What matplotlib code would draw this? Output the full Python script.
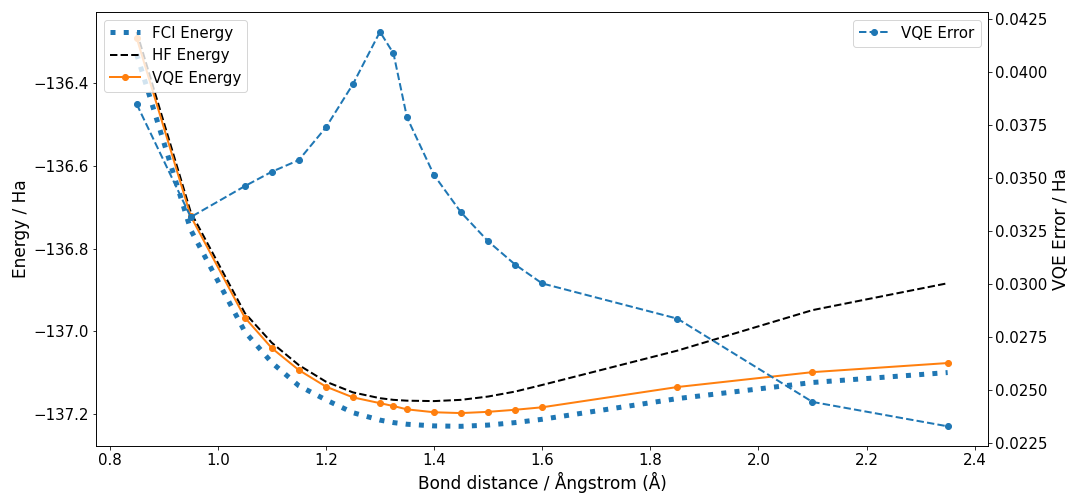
import numpy as np
import matplotlib
matplotlib.use('Agg')
import matplotlib.pyplot as plt

#%% data
bond = [0.85, 0.95, 1.05, 1.1, 1.15, 1.2, 1.25, 1.3, 1.325, 1.35,
        1.4, 1.45, 1.5, 1.55, 1.6, 1.85, 2.1, 2.35]
fci_energy = [-136.330, -136.755, -137.001, -137.076, -137.132, -137.166, -137.197, -137.215,
              -137.221, -137.225, -137.229, -137.230, -137.227, -137.221, -137.213,
              -137.163, -137.124, -137.100]
hf_energy = [-136.276, -136.712, -136.956, -137.028, -137.082, -137.122, -137.148, -137.162,
             -137.166, -137.168, -137.169, -137.166, -137.158, -137.146, -137.130,
             -137.047, -136.949, -136.884]
vqe_energy = [-136.291, -136.722, -136.967, -137.041, -137.094, -137.134, -137.160, -137.174,
              -137.181, -137.189, -137.196, -137.198, -137.195, -137.190, -137.184,
              -137.135, -137.099, -137.077]
vqe_error = [0.03849, 0.03316, 0.03462, 0.03530, 0.03585, 0.03739, 0.03943, 0.04190,
             0.04088, 0.03786, 0.03514, 0.03338, 0.03202, 0.03092, 0.03003,
             0.02837, 0.02444, 0.02329]

#%% plot
plt.rcParams['font.size'] = 15
fig, ax = plt.subplots(figsize=(15, 7), dpi=72)
fig.subplots_adjust(left=0.089, right=0.915, bottom=0.115, top=0.976)

ax.plot(bond, fci_energy, ':', color='C0', linewidth=5, label='FCI Energy')
ax.plot(bond, hf_energy, '--', color='k', linewidth=2, label='HF Energy')
ax.plot(bond, vqe_energy, '-o', color='C1', linewidth=2, markersize=6, label='VQE Energy')
ax.set_xlabel('Bond distance / Ångstrom (Å)', fontsize=17)
ax.set_ylabel('Energy / Ha', fontsize=17)
ax.legend(loc='upper left')

ax2 = ax.twinx()
ax2.plot(bond, vqe_error, '--o', color='C0', linewidth=2, markersize=6, label='VQE Error')
ax2.set_ylabel('VQE Error / Ha', fontsize=17)
ax2.legend(loc='upper right')

fig.savefig('out.png', dpi=72)
